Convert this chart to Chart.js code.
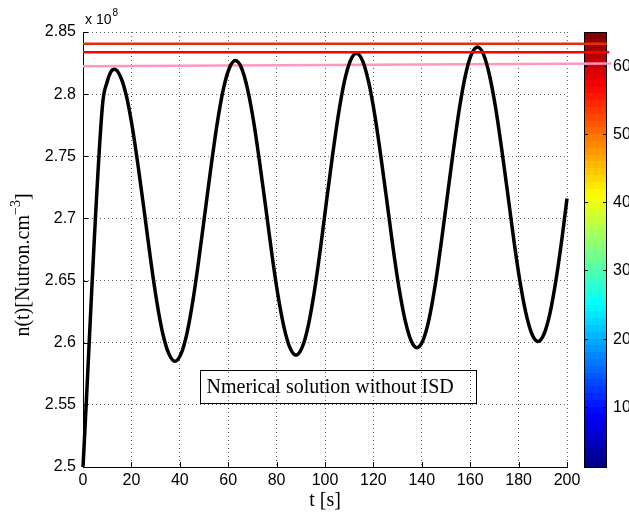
<!DOCTYPE html>
<html>
<head>
<meta charset="utf-8">
<script src="https://cdn.jsdelivr.net/npm/chart.js@4.4.0/dist/chart.umd.min.js"></script>
<style>
html, body { margin: 0; padding: 0; background: #fff; }
#wrap { width: 629px; height: 514px; }
</style>
</head>
<body>
<div id="wrap"><canvas id="chart" width="629" height="514"></canvas></div>
<script>
// time axis [s] and neutron density (x 10^8)
const timeS = [0, 8, 10, 11.5, 13, 15.5, 18, 20.5, 23, 25.5, 28, 30.5, 33, 35.5, 38, 40.5, 43, 45.5, 48, 50.5,
  53, 55.5, 58, 60.5, 63, 65.5, 68, 70.5, 73, 75.5, 78, 80.5, 83, 85.5, 88, 90.5, 93, 95.5, 98, 100.5,
  103, 105.5, 108, 110.5, 113, 115.5, 118, 120.5, 123, 125.5, 128, 130.5, 133, 135.5, 138, 140.5, 143, 145.5, 148, 150.5,
  153, 155.5, 158, 160.5, 163, 165.5, 168, 170.5, 173, 175.5, 178, 180.5, 183, 185.5, 188, 190.5, 193, 195.5, 198, 200];
const nValues = [2.500, 2.790, 2.810, 2.818, 2.820, 2.814, 2.798, 2.772, 2.739, 2.703, 2.666, 2.633, 2.607, 2.591, 2.585, 2.591, 2.608, 2.635, 2.669, 2.706,
  2.743, 2.777, 2.804, 2.821, 2.827, 2.821, 2.804, 2.778, 2.745, 2.709, 2.672, 2.639, 2.613, 2.596, 2.590, 2.596, 2.613, 2.640, 2.674, 2.712,
  2.749, 2.783, 2.810, 2.827, 2.833, 2.827, 2.810, 2.784, 2.751, 2.715, 2.678, 2.645, 2.619, 2.602, 2.596, 2.602, 2.619, 2.646, 2.680, 2.717,
  2.754, 2.788, 2.815, 2.832, 2.838, 2.832, 2.815, 2.789, 2.756, 2.720, 2.683, 2.650, 2.624, 2.607, 2.601, 2.607, 2.624, 2.651, 2.685, 2.716];

// the three level lines (they run on past the axes)
const topLineT = [0, 216.5];
const topLineN = [2.8406, 2.8406];
const redLineT = [0, 217.5];
const redLineN = [2.8338, 2.8338];
const pinkLineT = [0, 218.3];
const pinkLineN = [2.8224, 2.8246];

const xTicks = [0, 20, 40, 60, 80, 100, 120, 140, 160, 180, 200];
const yTicks = [2.5, 2.55, 2.6, 2.65, 2.7, 2.75, 2.8, 2.85];
const colorTicks = [10, 20, 30, 40, 50, 60];
const colorRange = [1, 65];

const sansFont = "'Liberation Sans', Arial, sans-serif";
const serifFont = "'Liberation Serif', 'Times New Roman', serif";

function toPoints(xs, ys) {
    return xs.map((x, i) => ({ x: x, y: ys[i] }));
}

function jet(v) { // matlab jet, v in 0..1
    const c = a => Math.round(255 * Math.max(0, Math.min(1, a)));
    return `rgb(${c(1.5 - Math.abs(4 * v - 3))},${c(1.5 - Math.abs(4 * v - 2))},${c(1.5 - Math.abs(4 * v - 1))})`;
}

// colorbar, drawn under the lines
const colorbarPlugin = {
    id: 'colorbar',
    beforeDatasetsDraw(chart) {
        const ctx = chart.ctx;
        const left = 584, right = 607, top = 32, bottom = 468;
        const n = 64;
        const h = (bottom - top) / n;
        ctx.save();
        for (let i = 0; i < n; i++) {
            const y1 = Math.round(bottom - (i + 1) * h);
            const y2 = Math.round(bottom - i * h);
            ctx.fillStyle = jet((i + 0.5) / n);
            ctx.fillRect(left, y1, right - left, y2 - y1);
        }
        ctx.strokeStyle = '#000';
        ctx.lineWidth = 1;
        ctx.strokeRect(left + 0.5, top + 0.5, right - left - 1, bottom - top - 1);
        ctx.font = '16px ' + sansFont;
        ctx.fillStyle = '#000';
        ctx.textAlign = 'left';
        ctx.textBaseline = 'middle';
        colorTicks.forEach(v => {
            const y = Math.round(bottom - (v - colorRange[0]) / (colorRange[1] - colorRange[0]) * (bottom - top)) + 0.5;
            ctx.beginPath();
            ctx.moveTo(left, y); ctx.lineTo(left + 4, y);
            ctx.moveTo(right - 4, y); ctx.lineTo(right, y);
            ctx.stroke();
            ctx.fillText(String(v), 613, y);
        });
        ctx.restore();
    }
};

// inward ticks, labels, text box
const decorPlugin = {
    id: 'decor',
    afterDraw(chart) {
        const ctx = chart.ctx;
        const xs = chart.scales.x, ys = chart.scales.y;
        const area = chart.chartArea;
        ctx.save();
        ctx.strokeStyle = '#000';
        ctx.lineWidth = 1;
        ctx.beginPath();
        xTicks.forEach(t => {
            const x = Math.round(xs.getPixelForValue(t)) + 0.5;
            ctx.moveTo(x, area.bottom); ctx.lineTo(x, area.bottom - 5);
        });
        yTicks.forEach(v => {
            const y = Math.round(ys.getPixelForValue(v)) + 0.5;
            ctx.moveTo(area.left, y); ctx.lineTo(area.left + 5, y);
        });
        ctx.stroke();

        // exponent label
        ctx.fillStyle = '#000';
        ctx.textBaseline = 'middle';
        ctx.textAlign = 'left';
        ctx.font = '14px ' + sansFont;
        ctx.fillText('x 10', 85, 20);
        const w = ctx.measureText('x 10').width;
        ctx.font = '10px ' + sansFont;
        ctx.fillText('8', 85 + w + 1, 13);

        // y axis title
        ctx.save();
        ctx.translate(24, 265);
        ctx.rotate(-Math.PI / 2);
        ctx.font = '20px ' + serifFont;
        const main = 'n(t)[Nutron.cm';
        const wMain = ctx.measureText(main).width;
        ctx.font = '14px ' + serifFont;
        const wSup = ctx.measureText('\u22123').width;
        ctx.font = '20px ' + serifFont;
        const wEnd = ctx.measureText(']').width;
        let x0 = -(wMain + wSup + wEnd) / 2;
        ctx.fillText(main, x0, 0);
        ctx.font = '14px ' + serifFont;
        ctx.fillText('\u22123', x0 + wMain, -8);
        ctx.font = '20px ' + serifFont;
        ctx.fillText(']', x0 + wMain + wSup, 0);
        ctx.restore();

        // x axis title
        ctx.font = '20px ' + serifFont;
        ctx.textAlign = 'center';
        ctx.fillText('t [s]', 325, 501);

        // text box
        const bx1 = Math.round(xs.getPixelForValue(48.3)) + 0.5;
        const bx2 = Math.round(xs.getPixelForValue(162.4)) + 0.5;
        const by1 = Math.round(ys.getPixelForValue(2.578)) + 0.5;
        const by2 = Math.round(ys.getPixelForValue(2.5512)) + 0.5;
        ctx.strokeRect(bx1, by1, bx2 - bx1, by2 - by1);
        ctx.textAlign = 'left';
        ctx.font = '20px ' + serifFont;
        ctx.fillText('Nmerical solution without ISD', bx1 + 6, (by1 + by2) / 2 + 1);
        ctx.restore();
    }
};

const gridStyle = {
    color: 'rgba(0,0,0,0.6)',
    lineWidth: 1,
    drawTicks: false
};
// in v4 border.dash sets the grid line dash, the axis line stays solid
const axisBorder = { display: true, color: '#000', width: 1, dash: [1, 3] };

new Chart(document.getElementById('chart'), {
    type: 'line',
    data: {
        datasets: [
            {
                label: 'top',
                data: toPoints(topLineT, topLineN),
                borderColor: 'rgb(222,48,16)',
                borderWidth: 2.5,
                pointRadius: 0,
                clip: false,
                order: 0
            },
            {
                label: 'red',
                data: toPoints(redLineT, redLineN),
                borderColor: 'rgb(255,0,0)',
                borderWidth: 2.5,
                pointRadius: 0,
                clip: false,
                order: 1
            },
            {
                label: 'n(t)',
                data: toPoints(timeS, nValues),
                borderColor: '#000',
                borderWidth: 3.5,
                pointRadius: 0,
                cubicInterpolationMode: 'monotone',
                borderJoinStyle: 'round',
                clip: false,
                order: 2
            },
            {
                label: 'pink',
                data: toPoints(pinkLineT, pinkLineN),
                borderColor: 'rgb(255,150,195)',
                borderWidth: 2.5,
                pointRadius: 0,
                clip: false,
                order: 3
            }
        ]
    },
    options: {
        responsive: false,
        devicePixelRatio: 1,
        animation: false,
        layout: { padding: { left: 0, right: 62, top: 32, bottom: 0 } },
        plugins: { legend: { display: false }, tooltip: { enabled: false } },
        scales: {
            x: {
                type: 'linear',
                min: 0,
                max: 200,
                afterBuildTicks: s => { s.ticks = xTicks.map(v => ({ value: v })); },
                afterFit: s => { s.height = 47; },
                grid: gridStyle,
                border: axisBorder,
                ticks: {
                    padding: 4,
                    color: '#000',
                    font: { family: sansFont, size: 16 },
                    maxRotation: 0,
                    callback: v => String(v)
                }
            },
            y: {
                type: 'linear',
                min: 2.5,
                max: 2.85,
                afterBuildTicks: s => { s.ticks = yTicks.map(v => ({ value: v })); },
                afterFit: s => { s.width = 83; },
                grid: gridStyle,
                border: axisBorder,
                ticks: {
                    padding: 7,
                    color: '#000',
                    font: { family: sansFont, size: 16 },
                    callback: v => String(parseFloat(v.toFixed(2)))
                }
            }
        }
    },
    plugins: [colorbarPlugin, decorPlugin]
});
</script>
</body>
</html>
